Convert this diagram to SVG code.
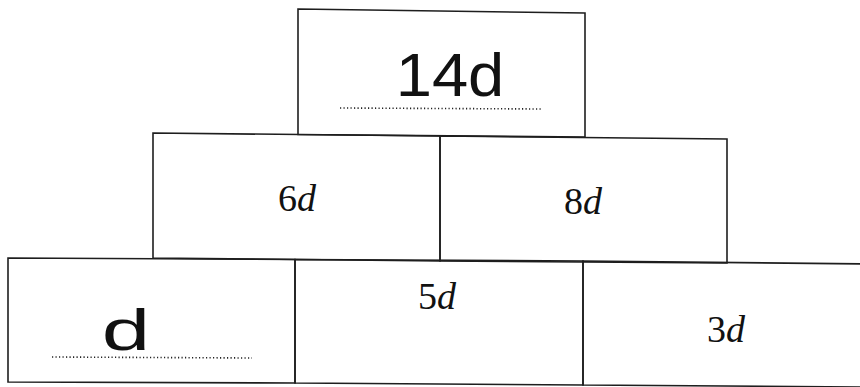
<svg xmlns="http://www.w3.org/2000/svg" width="860" height="387" viewBox="0 0 860 387">
<style>
.box{fill:none;stroke:#1e1e1e;stroke-width:1.6;stroke-linejoin:miter}
.hand{font-family:"Liberation Sans","Noto Sans",sans-serif;fill:#111;text-anchor:middle}
.print{font-family:"Liberation Serif","DejaVu Serif",serif;font-size:38px;fill:#111;text-anchor:middle}
.dots{stroke:#222;stroke-width:1.6;stroke-dasharray:1.2 2.3;fill:none}
</style>
<rect width="860" height="387" fill="#fff"/>
<g id="top">
<polygon class="box" points="298,9 585,13 585,137 298,134.5"/>
<text class="hand" x="450" y="96" font-size="62" transform="translate(450 96) scale(1.05 1) translate(-450 -96)">14d</text>
<line class="dots" x1="340" y1="108" x2="542" y2="109"/>
</g>
<g id="mid-left">
<polygon class="box" points="153,133 440,136 440,261 153,258"/>
<text class="print" x="297" y="211">6<tspan font-style="italic">d</tspan></text>
</g>
<g id="mid-right">
<polygon class="box" points="440,136 727,139 727,263 440,261"/>
<text class="print" x="583" y="214">8<tspan font-style="italic">d</tspan></text>
</g>
<g id="bottom-left">
<polygon class="box" points="8,258 295,259.5 295,383 8,382"/>
<text class="hand" x="126" y="350" font-size="58" transform="translate(126 350) scale(1.5 1) translate(-126 -350)">d</text>
<line class="dots" x1="52" y1="357" x2="252" y2="358"/>
</g>
<g id="bottom-mid">
<polygon class="box" points="295,259.5 583,261 583,385 295,383"/>
<text class="print" x="437" y="309">5<tspan font-style="italic">d</tspan></text>
</g>
<g id="bottom-right">
<polygon class="box" points="583,261 870,264 870,387 583,385"/>
<text class="print" x="726" y="342">3<tspan font-style="italic">d</tspan></text>
</g>
<g id="connectors"/>
</svg>
